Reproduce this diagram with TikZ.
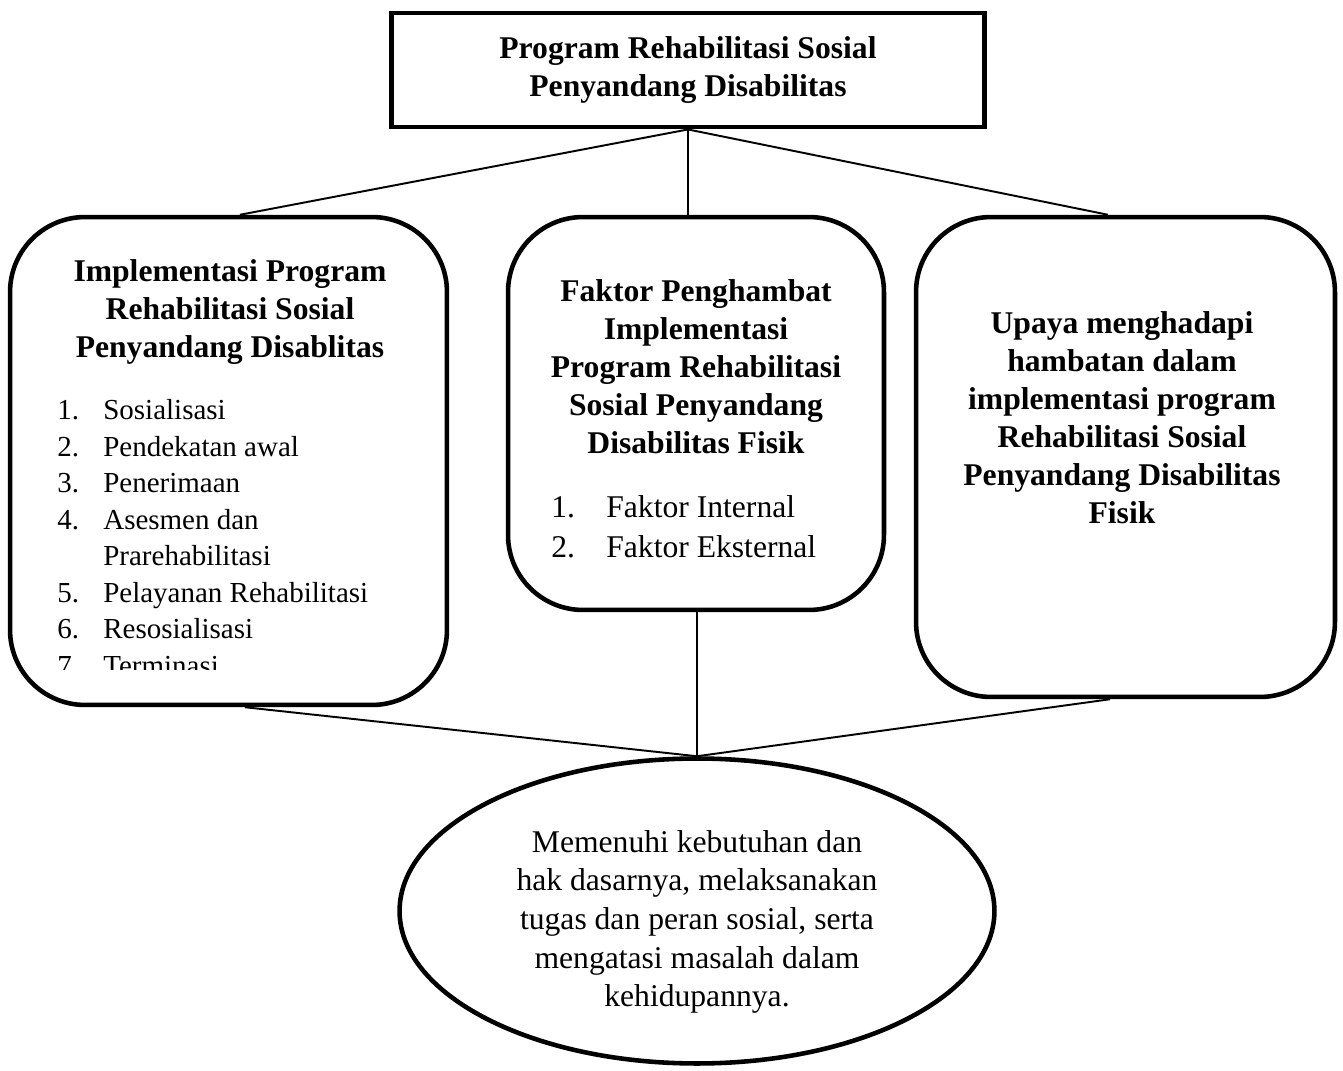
\documentclass[tikz,border=0pt]{standalone}
\usepackage{fontspec}
\setmainfont{Liberation Serif}
\usetikzlibrary{shapes.geometric}

\tikzset{
    kotak/.style={draw, line width=2.6pt, rounded corners=1.5cm, inner sep=0pt},
    judul/.style={font=\fontsize{18}{21.6}\selectfont\bfseries, align=center, inner sep=0pt},
    daftar/.style={align=left, inner sep=0pt},
    garis/.style={line width=1.1pt}
}
\newcommand{\nomor}[2]{\makebox[#1][l]{#2}}

\begin{document}
\begin{tikzpicture}[x=0.02cm,y=-0.02cm]
        \useasboundingbox (0,0) rectangle (1343,1071);
        % kotak
        \node[draw, line width=2.8pt, minimum width=11.86cm, minimum height=2.28cm, inner sep=0pt](P) at (688,70) {};
        \node[kotak, minimum width=8.74cm, minimum height=9.76cm](L) at (228.5,461) {};
        \node[kotak, minimum width=7.52cm, minimum height=7.86cm](M) at (696,413.5) {};
        \node[kotak, minimum width=8.38cm, minimum height=9.6cm](R) at (1125.5,457) {};
        \node[ellipse, draw, line width=2.6pt, minimum width=11.9cm, minimum height=6.1cm, inner sep=0pt](E) at (697,911) {};
        % teks
        \node[judul](Pt) at (688,70) {Program Rehabilitasi Sosial\\Penyandang Disabilitas};
        \node[judul](Lt) at (230,312) {Implementasi Program\\Rehabilitasi Sosial\\Penyandang Disablitas};
        \node[judul](Mt) at (696,367) {Faktor Penghambat\\Implementasi\\Program Rehabilitasi\\Sosial Penyandang\\Disabilitas Fisik};
        \node[judul](Rt) at (1122,418) {Upaya menghadapi\\hambatan dalam\\implementasi program\\Rehabilitasi Sosial\\Penyandang Disabilitas\\Fisik};
        \begin{scope}
            \clip (20,380) rectangle (440,669);
            \node[daftar, font=\fontsize{16.5}{20.8}\selectfont, anchor=north west](Ld) at (57,399)
                {\nomor{0.92cm}{1.}Sosialisasi\\
                 \nomor{0.92cm}{2.}Pendekatan awal\\
                 \nomor{0.92cm}{3.}Penerimaan\\
                 \nomor{0.92cm}{4.}Asesmen dan\\
                 \nomor{0.92cm}{}Prarehabilitasi\\
                 \nomor{0.92cm}{5.}Pelayanan Rehabilitasi\\
                 \nomor{0.92cm}{6.}Resosialisasi\\
                 \nomor{0.92cm}{7.}Terminasi};
        \end{scope}
        \node[daftar, font=\fontsize{18}{22.7}\selectfont, anchor=north west](Md) at (551,495)
            {\nomor{1.1cm}{1.}Faktor Internal\\
             \nomor{1.1cm}{2.}Faktor Eksternal};
        \node[align=center, inner sep=0pt, font=\fontsize{18}{22}\selectfont](Et) at (697,922)
            {Memenuhi kebutuhan dan\\hak dasarnya, melaksanakan\\tugas dan peran sosial, serta\\mengatasi masalah dalam\\kehidupannya.};
        % garis
        \path[garis]
            (P.south) edge [-] ([xshift=0.23cm]L.north)
                      edge [-] (P.south |- M.north)
                      edge [-] ([xshift=-0.35cm]R.north)
            (E.north) edge [-] ([xshift=0.33cm]L.south)
                      edge [-] (E.north |- M.south)
                      edge [-] ([xshift=-0.31cm]R.south)
            ;
\end{tikzpicture}
\end{document}
